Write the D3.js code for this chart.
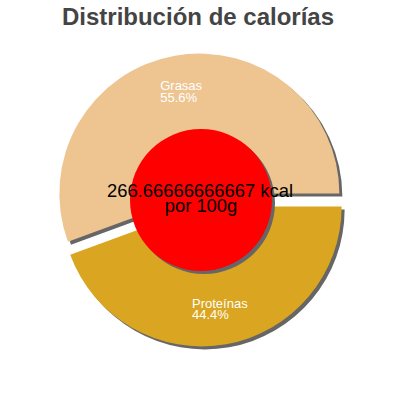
<!DOCTYPE html>
<html>
<head>
<meta charset="utf-8">
<script src="https://cdn.jsdelivr.net/npm/d3@7"></script>
<style>
  html, body { margin: 0; padding: 0; background: #fff; }
  svg { display: block; }
  text { font-family: "Liberation Sans", Arial, sans-serif; }
</style>
</head>
<body>
<svg id="chart" width="400" height="400"></svg>
<script>
const title = "Distribución de calorías";
const categories = ["Grasas", "Proteínas"];
const values = [55.6, 44.4];
const colors = ["#EEC591", "#DAA520"];
const energyLabel = "266.66666666667 kcal";
const perLabel = "por 100g";

const W = 400, H = 400;
const cx = 200.5, cy = 200, R = 140, explode = 6.5, labelR = 104;
const innerR = 71, shadowOff = 3, shadowColor = "#666666";

const svg = d3.select("#chart");

svg.append("text")
  .attr("x", 198).attr("y", 25)
  .attr("text-anchor", "middle")
  .attr("font-size", 24).attr("font-weight", "bold")
  .attr("fill", "#444444")
  .text(title);

const data = categories.map((c, i) => ({ name: c, value: values[i], color: colors[i] }));
const pie = d3.pie().value(d => d.value).sort(null)
  .startAngle(Math.PI / 2).endAngle(Math.PI / 2 - 2 * Math.PI);
const arcs = pie(data);
const arc = d3.arc().innerRadius(0).outerRadius(R);

function offset(a) {
  const m = (a.startAngle + a.endAngle) / 2;
  return [cx + Math.sin(m) * explode, cy - Math.cos(m) * explode, m];
}

// shadows
svg.append("g").selectAll("path").data(arcs).join("path")
  .attr("transform", a => { const o = offset(a); return `translate(${o[0] + shadowOff},${o[1] + shadowOff})`; })
  .attr("d", arc)
  .attr("fill", shadowColor);

// slices
svg.append("g").selectAll("path").data(arcs).join("path")
  .attr("transform", a => { const o = offset(a); return `translate(${o[0]},${o[1]})`; })
  .attr("d", arc)
  .attr("fill", a => a.data.color);

// labels
const fmt = d3.format(".1f");
const lg = svg.append("g");
arcs.forEach(a => {
  const o = offset(a);
  const ax = o[0] + Math.sin(o[2]) * labelR;
  const ay = o[1] - Math.cos(o[2]) * labelR;
  const t1 = lg.append("text")
    .attr("font-size", 13).attr("fill", "#ffffff")
    .attr("y", ay - 1)
    .text(a.data.name);
  const w = t1.node().getComputedTextLength();
  t1.attr("x", ax - w / 2);
  lg.append("text")
    .attr("font-size", 13).attr("fill", "#ffffff")
    .attr("x", ax - w / 2).attr("y", ay + 10.5)
    .text(fmt(a.data.value) + "%");
});

// center circle
svg.append("circle").attr("cx", cx + 0.5 + shadowOff).attr("cy", cy + shadowOff)
  .attr("r", innerR).attr("fill", shadowColor);
svg.append("circle").attr("cx", cx + 0.5).attr("cy", cy)
  .attr("r", innerR).attr("fill", "#ff0000");

svg.append("text")
  .attr("x", 200).attr("y", 197)
  .attr("text-anchor", "middle")
  .attr("font-size", 18.4).attr("fill", "#000")
  .text(energyLabel);
svg.append("text")
  .attr("x", 201).attr("y", 212)
  .attr("text-anchor", "middle")
  .attr("font-size", 18.4).attr("fill", "#000")
  .text(perLabel);
</script>
</body>
</html>
